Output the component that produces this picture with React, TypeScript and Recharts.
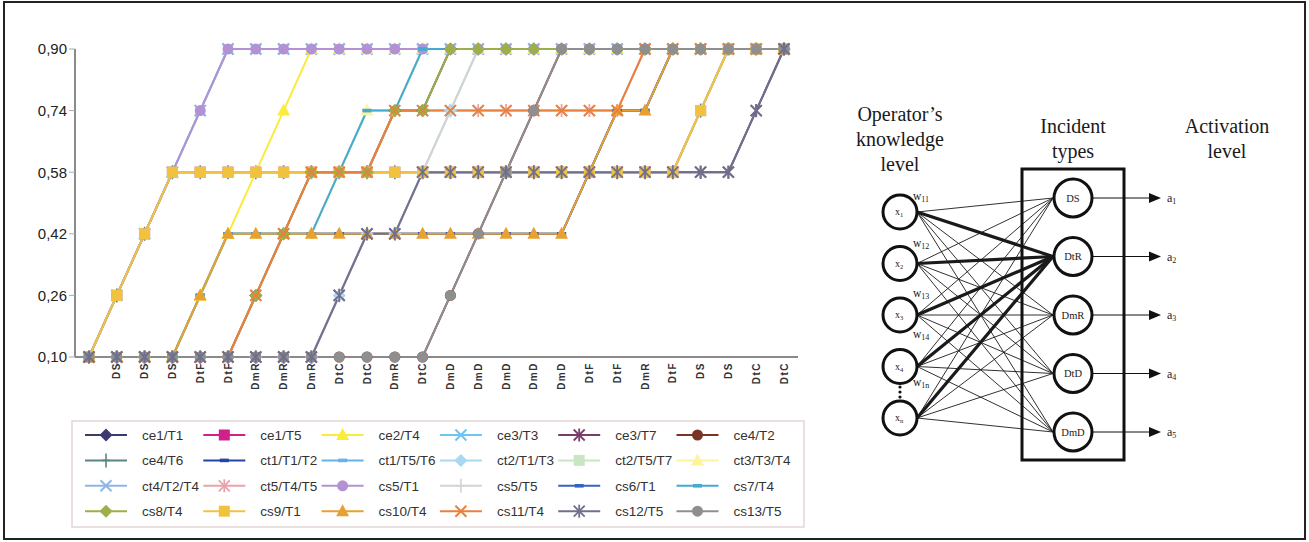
import React from "react";
import { LineChart, Line, XAxis, YAxis } from "recharts";

// ---------- data ----------
const categories = [
  "", "DS", "DS", "DS", "DtF", "DtF", "DmR", "DmR", "DmR", "DtC", "DtC", "DmR", "DtC",
  "DmD", "DmD", "DmD", "DmD", "DmD", "DtF", "DtF", "DmR", "DtF", "DS", "DS", "DtC", "DtC",
];
const yTicks = [0.1, 0.26, 0.42, 0.58, 0.74, 0.9];

const ce1_T1 = [0.10,0.10,0.10,0.10,0.10,0.10,0.26,0.42,0.58,0.58,0.58,0.74,0.74,0.90,0.90,0.90,0.90,0.90,0.90,0.90,0.90,0.90,0.90,0.90,0.90,0.90];
const ce1_T5 = [0.10,0.26,0.42,0.58,0.58,0.58,0.58,0.58,0.58,0.58,0.58,0.58,0.58,0.58,0.58,0.58,0.58,0.58,0.58,0.58,0.58,0.58,0.74,0.90,0.90,0.90];
const ce2_T4 = [0.10,0.10,0.10,0.10,0.26,0.42,0.58,0.74,0.90,0.90,0.90,0.90,0.90,0.90,0.90,0.90,0.90,0.90,0.90,0.90,0.90,0.90,0.90,0.90,0.90,0.90];
const ce3_T3 = [0.10,0.26,0.42,0.58,0.74,0.90,0.90,0.90,0.90,0.90,0.90,0.90,0.90,0.90,0.90,0.90,0.90,0.90,0.90,0.90,0.90,0.90,0.90,0.90,0.90,0.90];
const ce3_T7 = [0.10,0.10,0.10,0.10,0.10,0.10,0.10,0.10,0.10,0.26,0.42,0.42,0.58,0.58,0.58,0.58,0.58,0.58,0.58,0.58,0.58,0.58,0.58,0.58,0.74,0.90];
const ce4_T2 = [0.10,0.10,0.10,0.10,0.10,0.10,0.10,0.10,0.10,0.10,0.10,0.10,0.10,0.26,0.42,0.58,0.74,0.90,0.90,0.90,0.90,0.90,0.90,0.90,0.90,0.90];
const ce4_T6 = [0.10,0.26,0.42,0.58,0.58,0.58,0.58,0.58,0.58,0.58,0.58,0.58,0.58,0.58,0.58,0.58,0.58,0.58,0.58,0.58,0.58,0.58,0.74,0.90,0.90,0.90];
const ct1_T1_T2 = [0.10,0.10,0.10,0.10,0.26,0.42,0.42,0.42,0.42,0.42,0.42,0.42,0.42,0.42,0.42,0.42,0.42,0.42,0.58,0.74,0.74,0.90,0.90,0.90,0.90,0.90];
const ct1_T5_T6 = [0.10,0.10,0.10,0.10,0.26,0.42,0.42,0.42,0.42,0.58,0.74,0.74,0.90,0.90,0.90,0.90,0.90,0.90,0.90,0.90,0.90,0.90,0.90,0.90,0.90,0.90];
const ct2_T1_T3 = [0.10,0.10,0.10,0.10,0.10,0.10,0.10,0.10,0.10,0.26,0.42,0.42,0.58,0.74,0.90,0.90,0.90,0.90,0.90,0.90,0.90,0.90,0.90,0.90,0.90,0.90];
const ct2_T5_T7 = [0.10,0.26,0.42,0.58,0.58,0.58,0.58,0.58,0.58,0.58,0.58,0.58,0.58,0.58,0.58,0.58,0.58,0.58,0.58,0.58,0.58,0.58,0.74,0.90,0.90,0.90];
const ct3_T3_T4 = [0.10,0.10,0.10,0.10,0.26,0.42,0.42,0.42,0.42,0.58,0.74,0.74,0.90,0.90,0.90,0.90,0.90,0.90,0.90,0.90,0.90,0.90,0.90,0.90,0.90,0.90];
const ct4_T2_T4 = [0.10,0.26,0.42,0.58,0.74,0.90,0.90,0.90,0.90,0.90,0.90,0.90,0.90,0.90,0.90,0.90,0.90,0.90,0.90,0.90,0.90,0.90,0.90,0.90,0.90,0.90];
const ct5_T4_T5 = [0.10,0.10,0.10,0.10,0.10,0.10,0.26,0.42,0.58,0.58,0.58,0.74,0.74,0.74,0.74,0.74,0.74,0.74,0.74,0.74,0.90,0.90,0.90,0.90,0.90,0.90];
const cs5_T1 = [0.10,0.26,0.42,0.58,0.74,0.90,0.90,0.90,0.90,0.90,0.90,0.90,0.90,0.90,0.90,0.90,0.90,0.90,0.90,0.90,0.90,0.90,0.90,0.90,0.90,0.90];
const cs5_T5 = [0.10,0.10,0.10,0.10,0.10,0.10,0.10,0.10,0.10,0.26,0.42,0.42,0.58,0.74,0.90,0.90,0.90,0.90,0.90,0.90,0.90,0.90,0.90,0.90,0.90,0.90];
const cs6_T1 = [0.10,0.10,0.10,0.10,0.26,0.42,0.42,0.42,0.42,0.42,0.42,0.42,0.42,0.42,0.42,0.42,0.42,0.42,0.58,0.74,0.74,0.90,0.90,0.90,0.90,0.90];
const cs7_T4 = [0.10,0.10,0.10,0.10,0.26,0.42,0.42,0.42,0.42,0.58,0.74,0.74,0.90,0.90,0.90,0.90,0.90,0.90,0.90,0.90,0.90,0.90,0.90,0.90,0.90,0.90];
const cs8_T4 = [0.10,0.10,0.10,0.10,0.10,0.10,0.26,0.42,0.58,0.58,0.58,0.74,0.74,0.90,0.90,0.90,0.90,0.90,0.90,0.90,0.90,0.90,0.90,0.90,0.90,0.90];
const cs9_T1 = [0.10,0.26,0.42,0.58,0.58,0.58,0.58,0.58,0.58,0.58,0.58,0.58,0.58,0.58,0.58,0.58,0.58,0.58,0.58,0.58,0.58,0.58,0.74,0.90,0.90,0.90];
const cs10_T4 = [0.10,0.10,0.10,0.10,0.26,0.42,0.42,0.42,0.42,0.42,0.42,0.42,0.42,0.42,0.42,0.42,0.42,0.42,0.58,0.74,0.74,0.90,0.90,0.90,0.90,0.90];
const cs11_T4 = [0.10,0.10,0.10,0.10,0.10,0.10,0.26,0.42,0.58,0.58,0.58,0.74,0.74,0.74,0.74,0.74,0.74,0.74,0.74,0.74,0.90,0.90,0.90,0.90,0.90,0.90];
const cs12_T5 = [0.10,0.10,0.10,0.10,0.10,0.10,0.10,0.10,0.10,0.26,0.42,0.42,0.58,0.58,0.58,0.58,0.58,0.58,0.58,0.58,0.58,0.58,0.58,0.58,0.74,0.90];
const cs13_T5 = [0.10,0.10,0.10,0.10,0.10,0.10,0.10,0.10,0.10,0.10,0.10,0.10,0.10,0.26,0.42,0.58,0.74,0.90,0.90,0.90,0.90,0.90,0.90,0.90,0.90,0.90];

// diagram content
const inputNodes = ["1", "2", "3", "4", "n"];
const weightLabels = ["11", "12", "13", "14", "1n"];
const incidentNodes = ["DS", "DtR", "DmR", "DtD", "DmD"];
const activationLabels = ["1", "2", "3", "4", "5"];

type Shape = "diamond" | "square" | "triangle" | "x" | "asterisk" | "circle" | "plus" | "dash";
type Def = { id: string; name: string; values: number[]; color: string; shape: Shape };

const seriesDefs: Def[] = [
  { id: "ce1_T1", name: "ce1/T1", values: ce1_T1, color: "#3b3a6e", shape: "diamond" },
  { id: "ce1_T5", name: "ce1/T5", values: ce1_T5, color: "#d0208c", shape: "square" },
  { id: "ce2_T4", name: "ce2/T4", values: ce2_T4, color: "#fbeb3c", shape: "triangle" },
  { id: "ce3_T3", name: "ce3/T3", values: ce3_T3, color: "#6ec6ef", shape: "x" },
  { id: "ce3_T7", name: "ce3/T7", values: ce3_T7, color: "#7b3b6b", shape: "asterisk" },
  { id: "ce4_T2", name: "ce4/T2", values: ce4_T2, color: "#7a3325", shape: "circle" },
  { id: "ce4_T6", name: "ce4/T6", values: ce4_T6, color: "#5b8585", shape: "plus" },
  { id: "ct1_T1_T2", name: "ct1/T1/T2", values: ct1_T1_T2, color: "#2444a6", shape: "dash" },
  { id: "ct1_T5_T6", name: "ct1/T5/T6", values: ct1_T5_T6, color: "#66b3e8", shape: "dash" },
  { id: "ct2_T1_T3", name: "ct2/T1/T3", values: ct2_T1_T3, color: "#a9d8f0", shape: "diamond" },
  { id: "ct2_T5_T7", name: "ct2/T5/T7", values: ct2_T5_T7, color: "#c9e6c3", shape: "square" },
  { id: "ct3_T3_T4", name: "ct3/T3/T4", values: ct3_T3_T4, color: "#fdf49c", shape: "triangle" },
  { id: "ct4_T2_T4", name: "ct4/T2/T4", values: ct4_T2_T4, color: "#8fb5e6", shape: "x" },
  { id: "ct5_T4_T5", name: "ct5/T4/T5", values: ct5_T4_T5, color: "#e8a3ab", shape: "asterisk" },
  { id: "cs5_T1", name: "cs5/T1", values: cs5_T1, color: "#b292d2", shape: "circle" },
  { id: "cs5_T5", name: "cs5/T5", values: cs5_T5, color: "#d3d3d3", shape: "plus" },
  { id: "cs6_T1", name: "cs6/T1", values: cs6_T1, color: "#3563c4", shape: "dash" },
  { id: "cs7_T4", name: "cs7/T4", values: cs7_T4, color: "#45aad2", shape: "dash" },
  { id: "cs8_T4", name: "cs8/T4", values: cs8_T4, color: "#9caf4a", shape: "diamond" },
  { id: "cs9_T1", name: "cs9/T1", values: cs9_T1, color: "#f2c23f", shape: "square" },
  { id: "cs10_T4", name: "cs10/T4", values: cs10_T4, color: "#e8a031", shape: "triangle" },
  { id: "cs11_T4", name: "cs11/T4", values: cs11_T4, color: "#e8803e", shape: "x" },
  { id: "cs12_T5", name: "cs12/T5", values: cs12_T5, color: "#6f6f8e", shape: "asterisk" },
  { id: "cs13_T5", name: "cs13/T5", values: cs13_T5, color: "#8f8f8f", shape: "circle" },
];

// bottom-to-top drawing order
const drawOrder = [
  "ce1_T1", "ce1_T5", "ce3_T3", "ct4_T2_T4", "ce3_T7", "ce4_T2", "ce4_T6", "ct1_T1_T2",
  "cs6_T1", "ct1_T5_T6", "ct2_T1_T3", "ct2_T5_T7", "ct5_T4_T5", "ct3_T3_T4", "cs5_T5",
  "ce2_T4", "cs5_T1", "cs7_T4", "cs9_T1", "cs10_T4", "cs8_T4", "cs11_T4", "cs13_T5", "cs12_T5",
];

const data = categories.map((c, i) => {
  const row: Record<string, number | string> = { idx: i, cat: c };
  seriesDefs.forEach((s) => (row[s.id] = s.values[i]));
  return row;
});

const FONT = "Arial, 'Liberation Sans', Helvetica, sans-serif";
const SERIF = "'Times New Roman', 'Liberation Serif', 'DejaVu Serif', serif";
const AXIS = "#8a8a8a";

function Marker({ shape, color, cx, cy }: { shape: Shape; color: string; cx: number; cy: number }) {
  const s = 5.5;
  switch (shape) {
    case "circle":
      return <circle cx={cx} cy={cy} r={s} fill={color} />;
    case "square":
      return <rect x={cx - s} y={cy - s} width={2 * s} height={2 * s} fill={color} />;
    case "triangle":
      return <polygon points={`${cx},${cy - 7} ${cx - 6.5},${cy + 5} ${cx + 6.5},${cy + 5}`} fill={color} />;
    case "diamond":
      return <polygon points={`${cx},${cy - 6.5} ${cx + 6.5},${cy} ${cx},${cy + 6.5} ${cx - 6.5},${cy}`} fill={color} />;
    case "x":
      return (
        <g stroke={color} strokeWidth={2}>
          <line x1={cx - s} y1={cy - s} x2={cx + s} y2={cy + s} />
          <line x1={cx - s} y1={cy + s} x2={cx + s} y2={cy - s} />
        </g>
      );
    case "asterisk":
      return (
        <g stroke={color} strokeWidth={1.8}>
          <line x1={cx - s} y1={cy - s} x2={cx + s} y2={cy + s} />
          <line x1={cx - s} y1={cy + s} x2={cx + s} y2={cy - s} />
          <line x1={cx} y1={cy - 6.5} x2={cx} y2={cy + 6.5} />
        </g>
      );
    case "plus":
      return (
        <g stroke={color} strokeWidth={1.6}>
          <line x1={cx} y1={cy - 7} x2={cx} y2={cy + 7} />
          <line x1={cx - 4} y1={cy} x2={cx + 4} y2={cy} />
        </g>
      );
    case "dash":
    default:
      return <rect x={cx - 4.5} y={cy - 1.8} width={9} height={3.6} fill={color} />;
  }
}

const XTick = (props: any) => {
  const { x, y, payload } = props;
  const label = categories[payload.value] ?? "";
  return (
    <text
      x={x}
      y={y}
      transform={`rotate(-90 ${x} ${y})`}
      textAnchor="end"
      dy="0.36em"
      fontSize={10}
      fontWeight="bold"
      fill="#333"
      fontFamily={FONT}
      letterSpacing={1.5}
    >
      {label}
    </text>
  );
};

const defsById: Record<string, Def> = {};
seriesDefs.forEach((d) => (defsById[d.id] = d));

function Legend() {
  const colX0 = 85;
  const colStep = 118.3;
  const rowY0 = 435;
  const rowStep = 25.4;
  return (
    <g>
      <rect x={72} y={421} width={732} height={106} fill="#fff" stroke="#e4d6d6" strokeWidth={1.5} />
      {seriesDefs.map((d, i) => {
        const c = i % 6;
        const r = Math.floor(i / 6);
        const x = colX0 + c * colStep;
        const y = rowY0 + r * rowStep;
        return (
          <g key={d.id}>
            <line x1={x} y1={y} x2={x + 42} y2={y} stroke={d.color} strokeWidth={2} />
            <Marker shape={d.shape} color={d.color} cx={x + 21} cy={y} />
            <text x={x + 57} y={y} dy="0.35em" fontSize={13.5} fill="#333" fontFamily={FONT}>
              {d.name}
            </text>
          </g>
        );
      })}
    </g>
  );
}

function Diagram() {
  const inX = 900;
  const inR = 17;
  const inY0 = 212;
  const inStep = 51.5;
  const outX = 1073;
  const outR = 19;
  const outY0 = 198;
  const outStep = 58.5;
  const weightYs = [200, 247, 297, 338, 386];
  return (
    <g fontFamily={SERIF} fill="#1a1a1a">
      <text x={900} y={121} textAnchor="middle" fontSize={20}>Operator’s</text>
      <text x={900} y={146} textAnchor="middle" fontSize={20}>knowledge</text>
      <text x={900} y={171} textAnchor="middle" fontSize={20}>level</text>
      <text x={1073} y={133} textAnchor="middle" fontSize={20}>Incident</text>
      <text x={1073} y={158} textAnchor="middle" fontSize={20}>types</text>
      <text x={1227} y={133} textAnchor="middle" fontSize={20}>Activation</text>
      <text x={1227} y={158} textAnchor="middle" fontSize={20}>level</text>

      {inputNodes.map((_, i) =>
        incidentNodes.map((__, j) => (
          <line
            key={`c${i}-${j}`}
            x1={inX + inR}
            y1={inY0 + i * inStep}
            x2={outX - outR - 1}
            y2={outY0 + j * outStep}
            stroke="#1a1a1a"
            strokeWidth={j === 1 ? 3.2 : 0.9}
          />
        ))
      )}

      <rect x={1022} y={169} width={102} height={291} fill="none" stroke="#111" strokeWidth={3} />

      {inputNodes.map((n, i) => (
        <g key={`in${i}`}>
          <circle cx={inX} cy={inY0 + i * inStep} r={inR} fill="#fff" stroke="#111" strokeWidth={3} />
          <text x={inX - 1} y={inY0 + i * inStep + 3} textAnchor="middle" fontSize={10}>
            x<tspan fontSize={6.5} dy={2}>{n}</tspan>
          </text>
        </g>
      ))}
      {weightLabels.map((w, i) => (
        <text key={`w${i}`} x={913} y={weightYs[i]} fontSize={11.5}>
          w<tspan fontSize={8} dy={2}>{w}</tspan>
        </text>
      ))}
      {[0, 1, 2].map((k) => (
        <circle key={`dot${k}`} cx={900} cy={387 + k * 5} r={1.6} fill="#111" />
      ))}

      {incidentNodes.map((n, j) => {
        const y = outY0 + j * outStep;
        return (
          <g key={`out${j}`}>
            <circle cx={outX} cy={y} r={outR} fill="#fff" stroke="#111" strokeWidth={3} />
            <text x={outX} y={y + 3.5} textAnchor="middle" fontSize={10.5}>{n}</text>
            <line x1={outX + outR} y1={y} x2={1152} y2={y} stroke="#111" strokeWidth={1} />
            <polygon points={`1149,${y - 5} 1161,${y} 1149,${y + 5}`} fill="#111" />
            <text x={1167} y={y + 4} fontSize={12}>
              a<tspan fontSize={8} dy={2}>{activationLabels[j]}</tspan>
            </text>
          </g>
        );
      })}
    </g>
  );
}

export default function App() {
  return (
    <div
      style={{
        position: "absolute",
        left: 0,
        top: 0,
        width: 1309,
        height: 542,
        background: "#fff",
        overflow: "hidden",
      }}
    >
      <div style={{ position: "absolute", left: 0, top: 0 }}>
        <LineChart
          width={830}
          height={412}
          data={data}
          margin={{ top: 49, right: 32, left: 0, bottom: 0 }}
        >
          <XAxis
            dataKey="idx"
            type="category"
            height={55}
            padding={{ left: 14, right: 14 }}
            axisLine={{ stroke: AXIS, strokeWidth: 2 }}
            tickLine={false}
            tickSize={0}
            tickMargin={5}
            interval={0}
            tick={<XTick />}
          />
          <XAxis
            xAxisId="top"
            dataKey="idx"
            orientation="top"
            height={0}
            padding={{ left: 14, right: 14 }}
            axisLine={{ stroke: AXIS, strokeWidth: 2 }}
            tick={false}
            tickLine={false}
          />
          <YAxis
            domain={[0.1, 0.9]}
            ticks={yTicks}
            width={75}
            axisLine={{ stroke: AXIS, strokeWidth: 2 }}
            tickLine={{ stroke: "#aaa" }}
            tickSize={6}
            tickMargin={2}
            interval={0}
            tickFormatter={(v: number) => v.toFixed(2).replace(".", ",")}
            tick={{ fontSize: 15, fill: "#222", fontFamily: FONT }}
          />
          <YAxis
            yAxisId="right"
            orientation="right"
            width={0}
            domain={[0, 1]}
            axisLine={{ stroke: AXIS, strokeWidth: 2 }}
            tick={false}
            tickLine={false}
          />
          {drawOrder.map((id) => {
            const d = defsById[id];
            return (
              <Line
                key={id}
                type="linear"
                dataKey={id}
                name={d.name}
                stroke={d.color}
                strokeWidth={2}
                isAnimationActive={false}
                activeDot={false}
                dot={(p: any) => (
                  <Marker key={`${id}-${p.index}`} shape={d.shape} color={d.color} cx={p.cx} cy={p.cy} />
                )}
              />
            );
          })}
        </LineChart>
      </div>
      <svg
        width={1309}
        height={542}
        style={{ position: "absolute", left: 0, top: 0, pointerEvents: "none" }}
      >
        <Legend />
        <Diagram />
      </svg>
      <div
        style={{
          position: "absolute",
          left: 3,
          top: 1,
          width: 1303,
          height: 539,
          border: "2px solid #222",
          boxSizing: "border-box",
        }}
      />
    </div>
  );
}
